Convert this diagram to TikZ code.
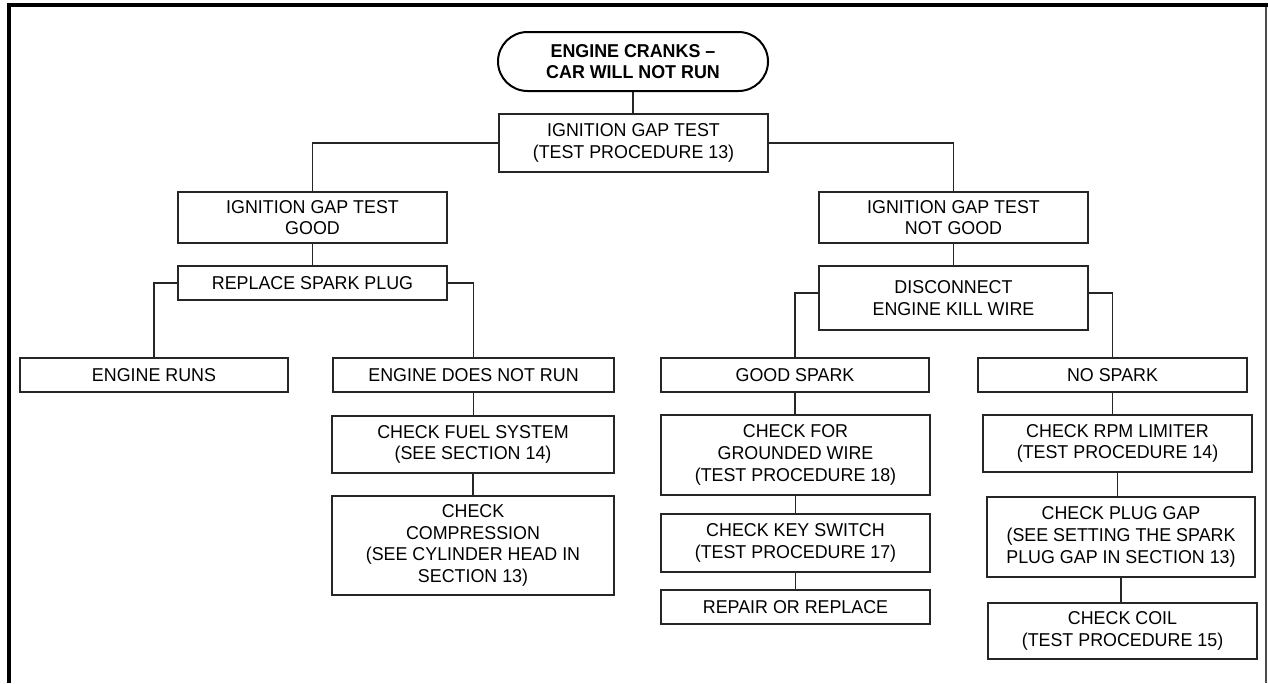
\documentclass[tikz,border=0pt]{standalone}
\usepackage{fontspec}
\setmainfont[FakeStretch=0.96]{Liberation Sans}
\usetikzlibrary{shapes.misc}

\begin{document}
\begin{tikzpicture}[x=1pt, y=-1pt, line join=miter,
  font=\fontsize{18.6}{21.7}\selectfont,
  stepbox/.style={draw=black!85, line width=1.1pt, rectangle, align=center,
    inner sep=0pt, minimum width=269pt, text=black},
  startbox/.style={draw=black, line width=2pt, rounded rectangle, align=center,
    inner sep=0pt, font=\fontsize{18.6}{21}\selectfont\bfseries},
  link/.style={draw=black!85, line width=1.1pt}]

  %% ==== frame ====
  \draw[line width=4.5pt] (9,683) -- (9,5) -- (1268,5);
  \draw[line width=1.3pt, black!70] (1266,7) -- (1266,683);

  %% ==== boxes ====
  \node[startbox, minimum width=270pt, minimum height=59pt] (start) at (633,61.5) {ENGINE CRANKS –\\CAR WILL NOT RUN};
  \node[stepbox, minimum height=58pt] (gaptest) at (633.5,143) {IGNITION GAP TEST\\(TEST PROCEDURE 13)};

  % left branch
  \node[stepbox, minimum height=51pt] (gapgood) at (312.5,217.5) {IGNITION GAP TEST\\GOOD};
  \node[stepbox, minimum height=34pt] (plug) at (312.5,283) {REPLACE SPARK PLUG};
  \node[stepbox, minimum width=268pt, minimum height=34pt] (runs) at (154,375) {ENGINE RUNS};
  \node[stepbox, minimum width=281pt, minimum height=34pt] (noruns) at (473.5,375) {ENGINE DOES NOT RUN};
  \node[stepbox, minimum width=282pt, minimum height=57pt] (fuel) at (473,444.5) {CHECK FUEL SYSTEM\\(SEE SECTION 14)};
  \node[stepbox, minimum width=282pt, minimum height=99pt] (compr) at (473,545.5) {CHECK\\COMPRESSION\\(SEE CYLINDER HEAD IN\\SECTION 13)};

  % right branch
  \node[stepbox, minimum height=51pt] (gapbad) at (953.5,217.5) {IGNITION GAP TEST\\NOT GOOD};
  \node[stepbox, minimum height=64pt] (killwire) at (953.5,298) {DISCONNECT\\ENGINE KILL WIRE};
  \node[stepbox, minimum width=268pt, minimum height=34pt] (spark) at (795,375) {GOOD SPARK};
  \node[stepbox, minimum height=80pt] (ground) at (795.5,455) {CHECK FOR\\GROUNDED WIRE\\(TEST PROCEDURE 18)};
  \node[stepbox, minimum height=58pt] (keysw) at (795.5,543) {CHECK KEY SWITCH\\(TEST PROCEDURE 17)};
  \node[stepbox, minimum height=34pt] (repair) at (795.5,607) {REPAIR OR REPLACE};
  \node[stepbox, minimum height=34pt] (nospark) at (1112.5,375) {NO SPARK};
  \node[stepbox, minimum height=57pt] (rpm) at (1117.5,443.5) {CHECK RPM LIMITER\\(TEST PROCEDURE 14)};
  \node[stepbox, minimum width=268pt, minimum height=80pt] (gap) at (1121,537) {CHECK PLUG GAP\\(SEE SETTING THE SPARK\\PLUG GAP IN SECTION 13)};
  \node[stepbox, minimum height=56pt] (coil) at (1122.5,631) {CHECK COIL\\(TEST PROCEDURE 15)};

  %% ==== connectors ====
  \draw[link] (start.south) -- (start.south |- gaptest.north);
  \draw[link] (gaptest.west) -| (gapgood.north);
  \draw[link] (gaptest.east) -| (gapbad.north);
  \draw[link] (gapgood.south) -- (gapgood.south |- plug.north);
  \draw[link] (gapbad.south) -- (gapbad.south |- killwire.north);
  \draw[link] (plug.west) -| (runs.north);
  \draw[link] (plug.east) -| (noruns.north);
  \draw[link] ([yshift=5pt]killwire.west) -| (spark.north);
  \draw[link] ([yshift=5pt]killwire.east) -| (nospark.north);
  \foreach \a/\b in {noruns/fuel, fuel/compr, spark/ground, ground/keysw,
                     keysw/repair, nospark/rpm, rpm/gap, gap/coil}
    \draw[link] (\a.south) -- (\a.south |- \b.north);

  \pgfresetboundingbox
  \path[use as bounding box] (0,0) rectangle (1268,683);
\end{tikzpicture}
\end{document}
